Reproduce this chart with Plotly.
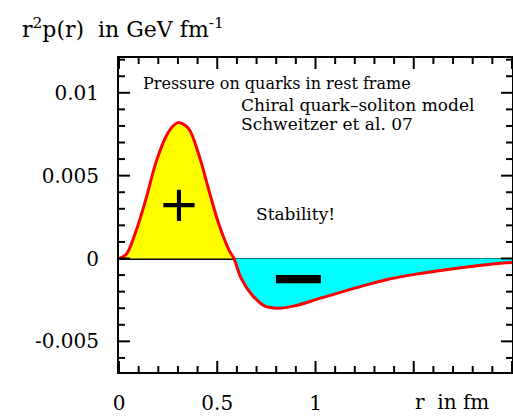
import plotly.graph_objects as go

# r in fm, r^2 p(r) in GeV fm^-1
r_pos = [0.0, 0.036, 0.087, 0.138, 0.189, 0.24, 0.275, 0.30, 0.325, 0.357, 0.408, 0.459, 0.51, 0.561, 0.585]
p_pos = [0.0, 0.00024, 0.00167, 0.00363, 0.00583, 0.00738, 0.00800, 0.00820, 0.00812, 0.0078, 0.0062, 0.00405, 0.0020, 0.00048, 0.0]
r_neg = [0.585, 0.622, 0.673, 0.74, 0.81, 0.893, 1.03, 1.2, 1.37, 1.54, 1.71, 1.88, 2.0]
p_neg = [0.0, -0.0012, -0.00214, -0.00286, -0.0030, -0.00286, -0.00238, -0.00179, -0.00125, -0.00089, -0.0006, -0.00036, -0.00024]

# tick positions
x_major = [0, 0.5, 1, 1.5, 2]
x_minor = [0.1, 0.2, 0.3, 0.4, 0.6, 0.7, 0.8, 0.9, 1.1, 1.2, 1.3, 1.4, 1.6, 1.7, 1.8, 1.9]
y_major = [-0.005, 0, 0.005, 0.01]
y_minor = [-0.006, -0.004, -0.003, -0.002, -0.001, 0.001, 0.002, 0.003, 0.004,
           0.006, 0.007, 0.008, 0.009, 0.011, 0.012]
x_labelalias = {"1.5": "", "2": ""}
y_labelalias = {"\u22120.005": "-0.005"}

FONT = "DejaVu Serif"
X_RANGE = [0, 2.0]
Y_RANGE = [-0.00685, 0.0121]
W, H = 513, 416
M = dict(l=119, r=1, t=58, b=44)
PW = W - M["l"] - M["r"]
PH = H - M["t"] - M["b"]
XS = (X_RANGE[1] - X_RANGE[0]) / PW   # data units per pixel
YS = (Y_RANGE[1] - Y_RANGE[0]) / PH

fig = go.Figure()
fig.add_trace(go.Scatter(x=r_pos, y=p_pos, mode="lines", line=dict(color="rgba(0,0,0,0)", shape="spline"),
                         fill="tozeroy", fillcolor="#ffff00", hoverinfo="skip"))
fig.add_trace(go.Scatter(x=r_neg, y=p_neg, mode="lines", line=dict(color="rgba(0,0,0,0)", shape="spline"),
                         fill="tozeroy", fillcolor="#00ffff", hoverinfo="skip"))
fig.add_trace(go.Scatter(x=r_pos + r_neg[1:], y=p_pos + p_neg[1:], mode="lines",
                         line=dict(color="#ff0000", width=3, shape="spline")))

# inward tick marks on all four sides, built from the tick values
tx, ty = [], []
for vals, ln in ((x_major, 11), (x_minor, 6)):
    for t in vals:
        tx += [t, t, None, t, t, None]
        ty += [Y_RANGE[0], Y_RANGE[0] + ln * YS, None, Y_RANGE[1], Y_RANGE[1] - ln * YS, None]
for vals, ln in ((y_major, 11), (y_minor, 6)):
    for t in vals:
        tx += [X_RANGE[0], X_RANGE[0] + ln * XS, None, X_RANGE[1], X_RANGE[1] - ln * XS, None]
        ty += [t, t, None, t, t, None]
fig.add_trace(go.Scatter(x=tx, y=ty, mode="lines", line=dict(color="black", width=2),
                         hoverinfo="skip", cliponaxis=False, connectgaps=False))

fig.update_layout(
    template="none",
    xaxis=dict(range=X_RANGE, dtick=0.5, tick0=0, labelalias=x_labelalias,
               ticks="", showline=True, linewidth=2, linecolor="black", mirror=True,
               showgrid=False, zeroline=False, ticklabelstandoff=12,
               tickfont=dict(family=FONT, size=20, color="black")),
    yaxis=dict(range=Y_RANGE, dtick=0.005, tick0=0, labelalias=y_labelalias,
               ticks="", showline=True, linewidth=2, linecolor="black", mirror=True,
               showgrid=False, zeroline=True, zerolinecolor="black", zerolinewidth=2,
               ticklabelstandoff=14,
               tickfont=dict(family=FONT, size=20, color="black")),
)

ann = dict(showarrow=False, font=dict(family=FONT, size=17, color="black"))
fig.add_annotation(text="r<sup>2</sup>p(r)  in GeV fm<sup>-1</sup>", xref="paper", yref="paper",
                   x=(20 - 119) / PW, y=1 + 30 / PH, xanchor="left", yanchor="middle",
                   **{**ann, "font": dict(family=FONT, size=22, color="black")})
fig.add_annotation(text="Pressure on quarks in rest frame", xref="x", yref="y", x=0.112, y=0.01054,
                   xanchor="left", yanchor="middle", **{**ann, "font": dict(family=FONT, size=16, color="black")})
fig.add_annotation(text="Chiral quark\u2013soliton model", xref="x", yref="y", x=0.61, y=0.00929,
                   xanchor="left", yanchor="middle", **ann)
fig.add_annotation(text="Schweitzer et al. 07", xref="x", yref="y", x=0.61, y=0.0081,
                   xanchor="left", yanchor="middle", **ann)
fig.add_annotation(text="Stability!", xref="x", yref="y", x=0.687, y=0.00268,
                   xanchor="left", yanchor="middle", **ann)
fig.add_annotation(text="+", xref="x", yref="y", x=0.305, y=0.0033,
                   xanchor="center", yanchor="middle",
                   showarrow=False, font=dict(family="DejaVu Sans", size=50, color="black"))
fig.add_annotation(text="<b>\u2212</b>", xref="x", yref="y", x=0.91, y=-0.0011,
                   xanchor="center", yanchor="middle",
                   showarrow=False, font=dict(family="DejaVu Sans", size=72, color="black"))
fig.add_annotation(text="r  in fm", xref="x", yref="paper", x=1.695, y=-30 / PH,
                   xanchor="center", yanchor="middle", **{**ann, "font": dict(family=FONT, size=20, color="black")})

fig.update_layout(width=W, height=H, margin=M,
                  paper_bgcolor="white", plot_bgcolor="white", showlegend=False)

fig.write_html("out.html")
